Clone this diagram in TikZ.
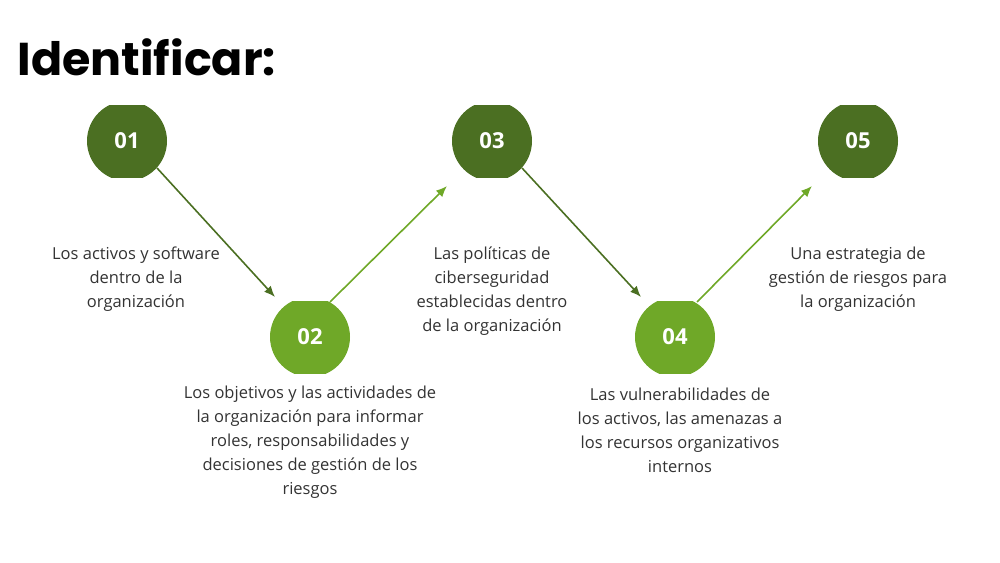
\documentclass[tikz,border=0pt]{standalone}
\usepackage{fontspec}
\setmainfont{Open Sans}
\newfontfamily\titlefont{Poppins}
\definecolor{dg}{HTML}{4B6F22}
\definecolor{lg}{HTML}{6FA828}
\definecolor{tx}{HTML}{333333}
\begin{document}
\begin{tikzpicture}[x=1pt,y=-1pt,
  body/.style={align=center,text=tx,font=\fontsize{16.5}{24}\selectfont},
  num/.style={text=white,font=\fontsize{22}{24}\selectfont\bfseries},
  arr/.style={line width=1.6pt,-{Latex[length=11pt,width=9pt]}}]
\usetikzlibrary{arrows.meta}
\useasboundingbox (0,0) rectangle (1000,562);
\node[anchor=west,font=\titlefont\fontsize{46}{50}\selectfont\bfseries] (title) at (14,57) {Identificar:};
\foreach \n/\x/\y/\c in {01/127/141/dg,02/310/337/lg,03/492/141/dg,04/675/337/lg,05/858/141/dg}{
  \begin{scope}
  \clip (\x-41,\y-36) rectangle (\x+41,\y+36);
  \fill[\c] (\x,\y) circle (40);
  \end{scope}
  \node[num] (c\n) at (\x,\y) {\n};
}
\coordinate (a1s) at (157,168); \coordinate (a1e) at (275,297);
\coordinate (a2s) at (330,302); \coordinate (a2e) at (447,186);
\coordinate (a3s) at (522,168); \coordinate (a3e) at (641,297);
\coordinate (a4s) at (697,302); \coordinate (a4e) at (812,186);
\draw[arr,dg] (a1s) -- (a1e);
\draw[arr,lg] (a2s) -- (a2e);
\draw[arr,dg] (a3s) -- (a3e);
\draw[arr,lg] (a4s) -- (a4e);
\node[body] (t1) at (136,279) {Los activos y software\\dentro de la\\organización};
\node[body] (t2) at (310,442) {Los objetivos y las actividades de\\la organización para informar\\roles, responsabilidades y\\decisiones de gestión de los\\riesgos};
\node[body] (t3) at (492,291) {Las políticas de\\ciberseguridad\\establecidas dentro\\de la organización};
\node[body] (t4) at (680,430) {Las vulnerabilidades de\\los activos, las amenazas a\\los recursos organizativos\\internos};
\node[body] (t5) at (858,279) {Una estrategia de\\gestión de riesgos para\\la organización};
\end{tikzpicture}
\end{document}
